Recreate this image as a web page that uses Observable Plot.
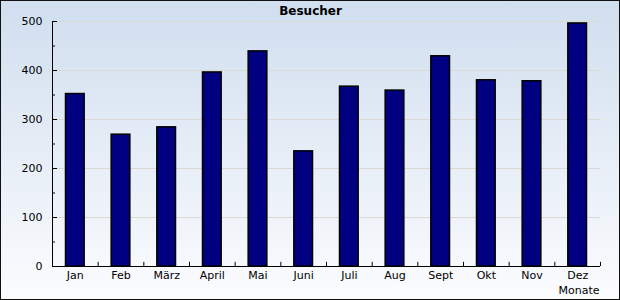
<!DOCTYPE html>
<html>
<head>
<meta charset="utf-8">
<script src="https://cdn.jsdelivr.net/npm/d3@7"></script>
<script src="https://cdn.jsdelivr.net/npm/@observablehq/plot@0.6"></script>
<style>
  html, body { margin: 0; padding: 0; background: #fff; }
  #chart {
    width: 620px; height: 300px; box-sizing: border-box;
    border: 1px solid #111;
    background: linear-gradient(to bottom, #d0deef 0%, #fbfcfe 100%);
    font-family: "DejaVu Sans", Verdana, sans-serif;
  }
  #chart svg { display: block; background: transparent; }
</style>
</head>
<body>
<div id="chart"></div>
<script>
const months = ["Jan", "Feb", "März", "April", "Mai", "Juni", "Juli", "Aug", "Sept", "Okt", "Nov", "Dez"];
const visitors = [352, 269, 284, 396, 439, 235, 367, 359, 429, 380, 378, 496];
const majorTicks = [0, 100, 200, 300, 400, 500];
const minorTicks = [50, 150, 250, 350, 450];
const gridTicks = [100, 200, 300, 400, 500];
const title = "Besucher";
const xTitle = "Monate";

const data = months.map((m, i) => ({month: m, value: visitors[i]}));

const W = 618, H = 298, mL = 51, mR = 19, mT = 20, mB = 33;
const step = (W - mL - mR) / months.length;

const chart = Plot.plot({
  width: W,
  height: H,
  marginLeft: mL,
  marginRight: mR,
  marginTop: mT,
  marginBottom: mB,
  style: {background: "transparent", fontFamily: "DejaVu Sans, Verdana, sans-serif", fontSize: "11px", color: "#000"},
  x: {domain: months, padding: 0, round: false, axis: null},
  y: {domain: [0, 500], axis: null},
  marks: [
    Plot.gridY(gridTicks, {stroke: "#dcd8d2", strokeOpacity: 1, strokeWidth: 1, insetLeft: 5}),
    Plot.barY(data, {x: "month", y: "value", fill: "#000080", stroke: "#000", strokeWidth: 1.5, insetLeft: 13.5, insetRight: 13.5}),
    // y axis line
    Plot.ruleX([months[0]], {y1: 0, y2: 500, dx: -step / 2, stroke: "#000"}),
    // x axis line
    Plot.ruleY([0], {stroke: "#000"}),
    // y ticks (inward)
    Plot.axisY(majorTicks, {tickSize: -5, text: null, label: null, stroke: "#000"}),
    Plot.axisY(minorTicks, {tickSize: -3, text: null, label: null, stroke: "#000"}),
    Plot.axisY(majorTicks, {tickSize: 0, tickPadding: 10, label: null, fill: "#000", fontSize: 11}),
    // x tick marks between categories (inward)
    Plot.ruleX(months, {y1: 0, y2: 8.5, dx: step / 2, stroke: "#000"}),
    Plot.axisX({tickSize: 0, tickPadding: 5, fill: "#000", fontSize: 11, label: null}),
    Plot.text([title], {frameAnchor: "top", lineAnchor: "middle", dy: -10, dx: -16, fontWeight: "bold", fontSize: 12, fill: "#000"}),
    Plot.text([xTitle], {frameAnchor: "bottom-right", lineAnchor: "middle", dy: 24, dx: -1, textAnchor: "end", fontSize: 11, fill: "#000"})
  ]
});
document.getElementById("chart").appendChild(chart);
</script>
</body>
</html>
